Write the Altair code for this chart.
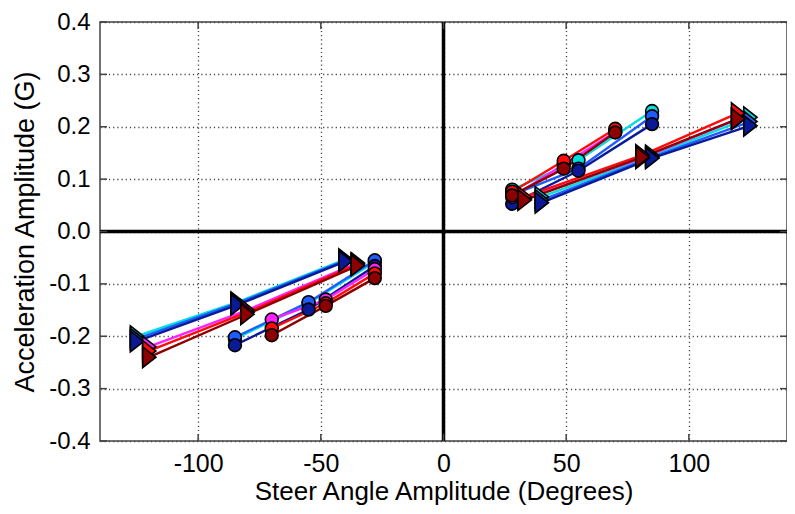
import altair as alt
import pandas as pd

# ---- data ----
SERIES = ["cyan", "blue", "navy", "magenta", "red", "darkred"]
COLORS = ["#00dede", "#1f5cff", "#0a1a96", "#ff22ff", "#ff0a0a", "#8c0000"]
BLUE_FAMILY = ["cyan", "blue", "navy"]

X_TICKS = [-100, -50, 0, 50, 100]
Y_TICKS = [-0.4, -0.3, -0.2, -0.1, 0.0, 0.1, 0.2, 0.3, 0.4]

# steer angle levels (x) for each family
pos_circle_x_blue = [28, 55, 85]
pos_circle_x_red = [28, 49, 70]
pos_tri_x_blue = [40, 85, 125]
pos_tri_x_red = [33, 81, 120]
neg_circle_x_blue = [-85, -55, -28]
neg_circle_x_red = [-70, -48, -28]
neg_tri_x_blue = [-125, -84, -40]
neg_tri_x_red = [-120, -80, -35]

# acceleration amplitudes (y) per series
pos_circle_y = {
    "cyan": [0.080, 0.136, 0.230],
    "blue": [0.070, 0.120, 0.220],
    "navy": [0.053, 0.116, 0.205],
    "magenta": [0.066, 0.128, 0.190],
    "red": [0.076, 0.135, 0.196],
    "darkred": [0.069, 0.120, 0.189],
}
pos_tri_y = {
    "cyan": [0.066, 0.145, 0.218],
    "blue": [0.060, 0.142, 0.210],
    "navy": [0.055, 0.140, 0.202],
    "magenta": [0.062, 0.140, 0.215],
    "red": [0.066, 0.146, 0.226],
    "darkred": [0.060, 0.142, 0.215],
}
neg_circle_y = {
    "cyan": [-0.205, -0.137, -0.058],
    "blue": [-0.202, -0.135, -0.055],
    "navy": [-0.217, -0.149, -0.066],
    "magenta": [-0.168, -0.130, -0.072],
    "red": [-0.185, -0.137, -0.080],
    "darkred": [-0.198, -0.142, -0.089],
}
neg_tri_y = {
    "cyan": [-0.200, -0.135, -0.053],
    "blue": [-0.205, -0.137, -0.055],
    "navy": [-0.210, -0.140, -0.057],
    "magenta": [-0.220, -0.150, -0.060],
    "red": [-0.228, -0.154, -0.062],
    "darkred": [-0.240, -0.158, -0.065],
}

# ---- build table ----
rows = []
sets = [
    ("pc", "circle", pos_circle_x_blue, pos_circle_x_red, pos_circle_y),
    ("pt", "tri", pos_tri_x_blue, pos_tri_x_red, pos_tri_y),
    ("nc", "circle", neg_circle_x_blue, neg_circle_x_red, neg_circle_y),
    ("nt", "tri", neg_tri_x_blue, neg_tri_x_red, neg_tri_y),
]
for key, shape, xb, xr, ys in sets:
    for s in SERIES:
        xs = xb if s in BLUE_FAMILY else xr
        for i, (xv, yv) in enumerate(zip(xs, ys[s])):
            rows.append({"grp": key + "_" + s, "series": s, "shape": shape,
                         "x": xv, "y": yv, "i": i})
df = pd.DataFrame(rows)

FONT = "Liberation Sans"
W, H = 687, 419

xscale = alt.Scale(domain=[-140, 140], nice=False, zero=False)
yscale = alt.Scale(domain=[-0.4, 0.4], nice=False, zero=False)
cscale = alt.Scale(domain=SERIES, range=COLORS)
TRI = "M-0.62,-1L0.66,0L-0.62,1Z"
sscale = alt.Scale(domain=["circle", "tri"], range=["circle", TRI])

xaxis = alt.Axis(values=X_TICKS, grid=True, gridDash=[1.2, 3], gridColor="#444",
                 gridWidth=1.3, tickSize=0, domain=False, labelFont=FONT,
                 labelFontSize=25, labelColor="black", labelPadding=10,
                 labelExpr="datum.value < 0 ? '-' + format(-datum.value, 'd') : format(datum.value, 'd')",
                 title="Steer Angle Amplitude (Degrees)", titleFont=FONT,
                 titleFontSize=26, titleFontWeight="normal", titleColor="black",
                 titleY=58, titleBaseline="alphabetic")
yaxis = alt.Axis(values=Y_TICKS, grid=True, gridDash=[1.2, 3],
                 gridColor="#444", gridWidth=1.3, tickSize=0, domain=False,
                 labelFont=FONT, labelFontSize=24, labelColor="black",
                 labelPadding=10,
                 labelExpr="datum.value < 0 ? '-' + format(-datum.value, '.1f') : format(datum.value, '.1f')",
                 title="Acceleration Amplitude (G)",
                 titleFont=FONT, titleFontSize=27, titleFontWeight="normal",
                 titleColor="black", titleX=-67, titleY=H / 2, titleAngle=270,
                 titleBaseline="alphabetic", titleAlign="center")

base = alt.Chart(df)

grid_layer = alt.Chart(pd.DataFrame({"x": [0], "y": [0]})).mark_point(opacity=0).encode(
    x=alt.X("x:Q", scale=xscale, axis=xaxis),
    y=alt.Y("y:Q", scale=yscale, axis=yaxis),
)

zero_x = alt.Chart(pd.DataFrame({"x": [0]})).mark_rule(color="black", strokeWidth=3.5).encode(
    x=alt.X("x:Q", scale=xscale))
zero_y = alt.Chart(pd.DataFrame({"y": [0]})).mark_rule(color="black", strokeWidth=3.5).encode(
    y=alt.Y("y:Q", scale=yscale))

xt = pd.DataFrame({"x": X_TICKS})
yt = pd.DataFrame({"y": Y_TICKS})
tick_style = dict(color="#444", strokeWidth=1.5)
ticks = [
    alt.Chart(xt).mark_rule(**tick_style).encode(x=alt.X("x:Q", scale=xscale),
                                                 y=alt.value(H), y2=alt.value(H - 7)),
    alt.Chart(xt).mark_rule(**tick_style).encode(x=alt.X("x:Q", scale=xscale),
                                                 y=alt.value(0), y2=alt.value(7)),
    alt.Chart(yt).mark_rule(**tick_style).encode(y=alt.Y("y:Q", scale=yscale),
                                                 x=alt.value(0), x2=alt.value(7)),
    alt.Chart(yt).mark_rule(**tick_style).encode(y=alt.Y("y:Q", scale=yscale),
                                                 x=alt.value(W), x2=alt.value(W - 7)),
]

lines = base.mark_line(strokeWidth=2.4).encode(
    x=alt.X("x:Q", scale=xscale),
    y=alt.Y("y:Q", scale=yscale),
    color=alt.Color("series:N", scale=cscale, legend=None),
    detail="grp:N",
    order="i:Q",
)

circles = base.transform_filter(alt.datum.shape == "circle").mark_point(
    filled=True, stroke="black", strokeWidth=1.6, opacity=1, size=165).encode(
    x=alt.X("x:Q", scale=xscale),
    y=alt.Y("y:Q", scale=yscale),
    fill=alt.Fill("series:N", scale=cscale, legend=None),
    shape=alt.Shape("shape:N", scale=sscale, legend=None),
)
tris = base.transform_filter(alt.datum.shape == "tri").mark_point(
    filled=True, stroke="black", strokeWidth=1.6, opacity=1, size=430).encode(
    x=alt.X("x:Q", scale=xscale),
    y=alt.Y("y:Q", scale=yscale),
    fill=alt.Fill("series:N", scale=cscale, legend=None),
    shape=alt.Shape("shape:N", scale=sscale, legend=None),
)

chart = alt.layer(grid_layer, zero_x, zero_y, *ticks, lines, circles, tris).properties(
    width=W, height=H,
    autosize=alt.AutoSizeParams(type="none"),
    padding={"left": 92, "top": 14, "right": 0, "bottom": 65},
    background="white",
).configure_view(stroke="#444", strokeWidth=1.5)

chart.save("out.html", embed_options={"renderer": "svg", "actions": False})
